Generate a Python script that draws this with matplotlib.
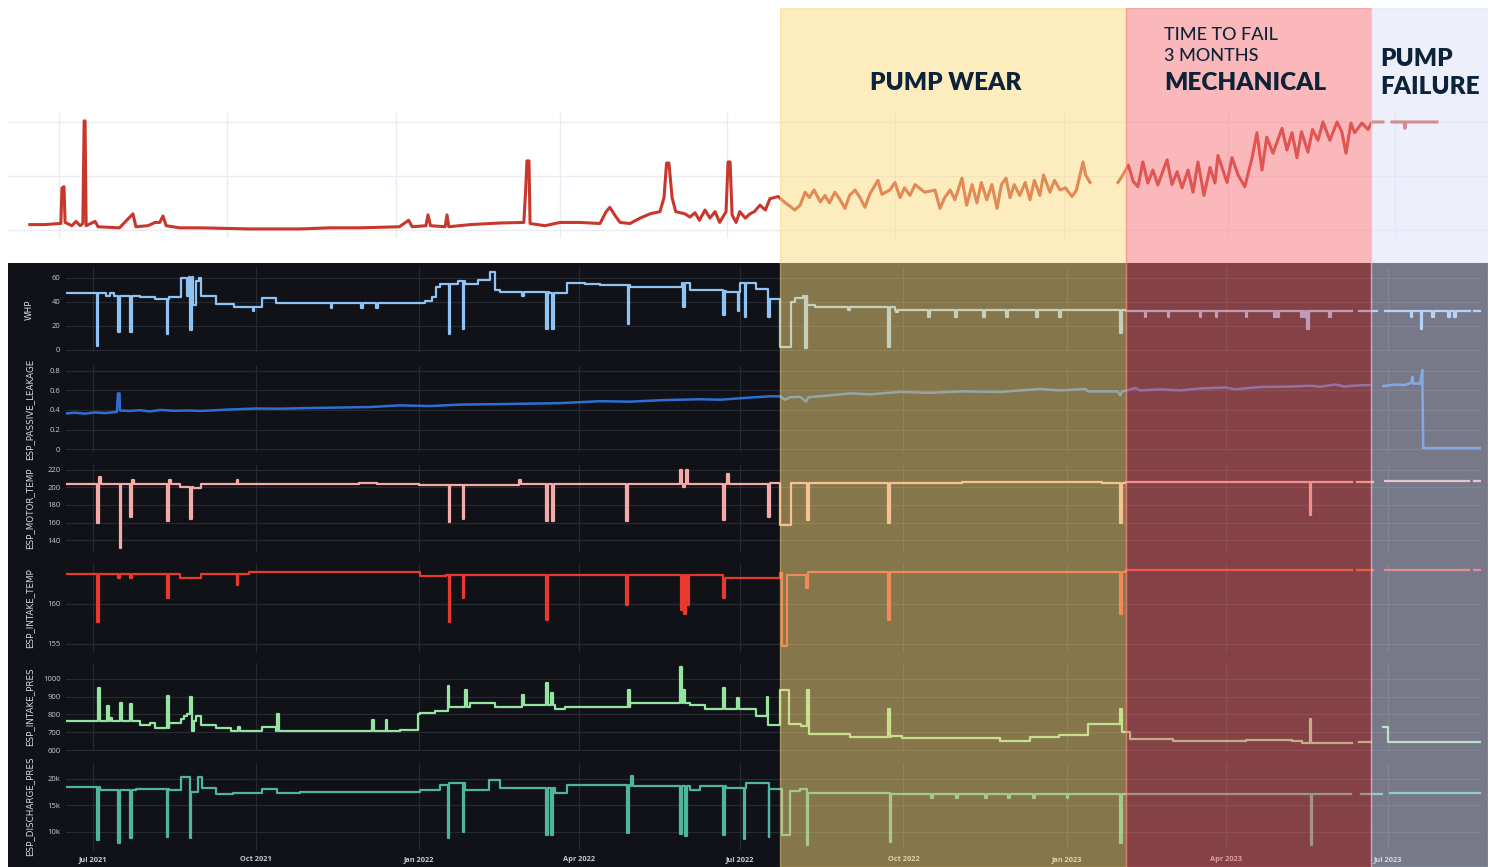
import numpy as np
import matplotlib
matplotlib.use('Agg')
import matplotlib.pyplot as plt
from matplotlib.patches import Rectangle

nan = np.nan

# ---- top chart: overall degradation index (days since 2021-07-01, value) ----
top_trend = [(-16, 5), (-8, 5), (0, 6), (1, 6), (1.6, 39), (2.7, 40), (3.3, 7), (7, 4), (9.3, 8), (11.5, 4),
             (13, 6), (13.7, 101), (14.2, 101), (14.8, 4), (19.7, 8), (21.3, 3), (33, 2), (40.4, 15), (42, 3),
             (48.6, 4), (52.5, 7), (55, 7), (56.8, 13), (58.5, 4), (66, 2), (77, 2), (104, 1), (132, 1), (148, 2),
             (164, 2), (186, 3), (191, 9), (193, 3), (200.5, 4), (201.6, 14), (203, 4), (211, 3), (212, 14),
             (213, 3), (224.6, 5), (235.5, 6), (241, 6.5), (254, 7), (255, 37), (255.7, 64), (256.8, 64),
             (257.4, 6), (265.6, 4), (273.8, 7), (284.7, 7), (295.6, 6), (299, 17), (301, 21), (304, 13),
             (306.6, 7), (312, 6), (317.5, 11), (323, 15), (328.4, 17), (330.6, 30), (332, 62), (333.3, 62),
             (335, 30), (337, 17), (342, 15), (344.8, 12), (347.5, 16), (350, 9), (353, 18.5), (355.7, 11),
             (358.5, 17), (361, 7), (364.5, 17), (365.6, 63), (366.7, 63), (367.8, 14), (370, 7), (372, 17),
             (375, 11), (377.6, 15), (380, 17), (383, 23), (386, 18.5), (388.5, 29), (393, 31), (397, 25),
             (399.5, 22), (402, 18.5), (405, 23), (407.7, 35), (410, 30), (412.6, 37), (416, 26), (418.6, 32),
             (421, 25), (424, 35), (426.8, 28), (429.5, 20), (432, 32), (435, 37), (437.7, 30), (440.4, 21),
             (443, 33), (447.5, 46), (449.7, 33), (454, 37), (456.8, 44), (459.6, 30), (462, 39), (465, 32),
             (467.8, 42), (473, 35), (478.7, 37), (481.4, 20), (484, 30), (487, 37), (489.6, 28), (493.4, 48),
             (496, 23), (499, 42), (501.6, 25), (504, 44), (507, 28), (509.8, 42), (512.6, 20), (515, 42),
             (517.5, 48), (519.7, 30), (522, 42), (525, 32), (528, 44), (530.6, 28), (533, 46), (536, 32),
             (538, 51), (541.5, 35), (544, 46), (547, 37), (550, 39), (553.6, 31), (556, 37), (559.6, 63),
             (561, 51), (563.4, 44), (565, nan), (578.7, 44), (581, 50), (584.4, 60), (587, 45), (589.6, 40),
             (592.3, 63), (595, 43.5), (597.8, 55.5), (600.5, 41.7), (605.5, 65), (608.2, 42), (611, 54),
             (613.7, 39), (617, 55.5), (619.7, 35), (622.4, 63), (625.7, 32), (629, 58), (631.7, 43.5),
             (633.3, 69), (638.3, 44), (641, 67), (644.3, 51), (648, 40), (652, 67), (654.6, 90), (657.4, 55.5),
             (660, 86), (663.4, 71), (668.3, 94), (671, 74), (673.8, 90), (676.5, 67), (679, 91), (682.5, 72),
             (685, 93), (688, 83), (690.7, 100), (694.5, 83), (698.4, 100), (701, 91), (703.3, 71), (706, 99),
             (708, 90), (712, 99), (715.3, 93), (717.5, 100), (723.5, 100), (725, nan), (728.4, 100), (735, 100),
             (735.5, 94), (736, 100), (753, 100)]

# ---- sensor channels: step levels (day, value) + short dips/spikes (day, value) ----
whp_levels = [(-15, 47), (7.5, 45), (9.6, 47), (12, 45), (26.5, 44), (35, 42), (43, 44), (49.6, 60), (52.8, 45),
              (54, 61), (56.2, 37), (58, 57), (59.8, 60), (60.9, 45), (69.4, 38), (79.5, 36), (95.3, 43),
              (103, 39), (184.4, 39), (187.2, 41), (191.2, 44), (193.5, 52), (195.7, 55), (205.9, 57), (210, 55),
              (217, 58), (224, 65), (226.7, 50), (229.5, 48), (257, 47), (267.3, 56), (277.5, 55), (286, 54),
              (303, 52), (331, 52), (332.2, 56), (336.7, 50), (355, 49), (357, 48), (365, 56), (374, 51),
              (381.5, 42.5), (387.5, 2.5), (393.5, 40), (396, 43), (400.4, 45), (402.7, 37.5), (407, 36),
              (452, 33), (582.6, 32.5), (710, nan), (714, 32.5), (724, nan), (728.5, 32.5), (776.6, nan),
              (779, 32.5), (782.7, 32.5)]
whp_dips = [(2, 3), (14, 15), (21, 15), (41.5, 13), (54.6, 16), (90, 32), (134, 35), (151, 35), (159.5, 35),
            (200.5, 13), (208.5, 17), (242, 45), (255.5, 17), (258.7, 17), (301.5, 21), (333, 36), (355.5, 29),
            (363.5, 32), (367.5, 27), (380.5, 27), (401.5, 1.5), (426, 33), (448.5, 2.5), (453, 31), (471, 27),
            (486, 27), (502, 27), (515, 27), (532, 27), (545, 27), (579, 14), (593, 27), (606, 27), (624, 27),
            (633, 27), (650, 27), (666, 27), (668, 27), (681, 27), (683, 27), (684.7, 17), (697, 27), (743, 27),
            (748.6, 17), (755, 27), (764, 27), (767.5, 27)]

leakage = [(-14.7, 0.365), (-10.2, 0.372), (-4.5, 0.362), (1.1, 0.375), (6.8, 0.368), (12.4, 0.378),
           (13.5, 0.38), (14.1, 0.57), (15, 0.57), (15.2, 0.395), (20.9, 0.39), (26.5, 0.398), (32, 0.385),
           (37.8, 0.4), (46, 0.392), (54.7, 0.395), (60.3, 0.39), (68.8, 0.397), (77.3, 0.405), (92, 0.415),
           (105.5, 0.413), (122.4, 0.42), (139.3, 0.425), (156, 0.43), (173, 0.447), (190, 0.44), (207, 0.455),
           (229.5, 0.46), (246.5, 0.465), (263.4, 0.47), (286, 0.49), (303, 0.485), (320, 0.5), (342.3, 0.51),
           (353.6, 0.505), (365, 0.52), (381.8, 0.54), (387.5, 0.54), (390.3, 0.505), (393, 0.53),
           (398.8, 0.535), (402.1, 0.485), (403.3, 0.53), (415.7, 0.55), (427, 0.57), (438.2, 0.56),
           (455, 0.585), (472, 0.575), (489, 0.59), (511.6, 0.585), (522.8, 0.6), (534, 0.615), (545.4, 0.6),
           (559.5, 0.615), (561.2, 0.59), (578, 0.59), (579.2, 0.55), (580.4, 0.59), (585, 0.61),
           (587.7, 0.625), (590.5, 0.6), (601.8, 0.61), (613, 0.6), (624.3, 0.62), (638.4, 0.63), (644, 0.612),
           (658, 0.635), (675, 0.64), (686.4, 0.648), (692, 0.638), (700.5, 0.66), (706, 0.64), (712, 0.65),
           (720, 0.655), (723, nan), (727.6, 0.645), (734.3, 0.66), (740, 0.655), (743.4, 0.68), (744, 0.74),
           (744.5, 0.67), (748.4, 0.67), (749.6, 0.81), (750.1, 0.01), (782.7, 0.01)]

motor_levels = [(-15, 203.5), (49, 201), (56.4, 199), (60.9, 203.6), (150, 205), (160, 203.6), (184, 203),
                (240, 203.5), (330, 204.5), (382, 204.8), (387.5, 157), (393.5, 204.8), (490, 206),
                (569, 204.8), (582.6, 206.7), (710, nan), (713, 206.7), (722, nan), (728.5, 207.4), (776, nan),
                (778.5, 207.4), (782.7, 207.4)]
motor_dips = [(2.5, 159), (3.5, 212), (15, 130.5), (20.9, 166), (21.9, 208), (41.8, 161.7), (42.8, 208),
              (54.7, 163.6), (81, 208), (200.5, 160.5), (208.5, 164), (240.5, 208), (255.5, 161.7),
              (259, 161.7), (300.8, 161.7), (331, 220), (333, 200), (334.5, 220), (355.5, 163), (357.5, 215.4),
              (380.5, 166.7), (402.5, 163), (448.5, 160), (579, 160), (686, 168.6)]

intake_t_levels = [(-15, 163.8), (49, 163.3), (61, 163.8), (88, 164.0), (184.4, 163.5), (199, 163.6),
                   (355, 163.3), (387.5, 163.9), (388.5, 154.7), (391.5, 163.6), (403, 164.0), (582.6, 164.25),
                   (710, nan), (713, 164.25), (722, nan), (728.5, 164.25), (776, nan), (778.5, 164.25),
                   (782.7, 164.25)]
intake_t_dips = [(2.5, 157.8), (14, 163.2), (21, 163.2), (42, 160.8), (81, 162.4), (200.5, 157.75),
                 (208.5, 160.7), (255.5, 158), (300.8, 159.9), (331.5, 159.25), (333.5, 158.8), (335, 159.9),
                 (355.5, 160.7), (402, 162), (448.5, 158), (579, 158.8)]

intake_p_levels = [(-15, 763), (9.5, 781), (11, 763), (26.5, 739), (32, 750), (35, 724), (43, 750), (49.6, 775),
                   (51.5, 790), (53, 800), (55.6, 707), (56.8, 763), (58.2, 790), (60.9, 739), (69.4, 726),
                   (78, 707), (95.3, 731), (103.2, 707), (173, 711), (183.3, 800), (184.4, 811), (193, 822),
                   (201, 844), (212.6, 867), (226.7, 844), (243, 855), (260.6, 833), (266.2, 844), (302.9, 867),
                   (336.7, 856), (345, 833), (374, 794), (380.7, 739), (387.5, 939), (392.5, 744), (399, 733),
                   (404, 689), (427, 672), (450, 678), (456, 667), (511.6, 650), (528.5, 672), (545, 683),
                   (561, 744), (580.4, 700), (585, 661), (609, 650), (650, 655), (676, 650), (682, 639),
                   (710, nan), (714, 644), (720.8, nan), (727.6, 728), (730, 644), (782.7, 644)]
intake_p_dips = [(2.8, 948), (7.9, 850), (15.2, 865), (20.9, 860), (41.7, 905), (54.6, 896), (81.8, 730),
                 (103.8, 800), (157.4, 768), (165, 768), (200.2, 961), (209.8, 939), (242, 911), (255.5, 978),
                 (258.3, 922), (301.7, 939), (331, 1067), (332.8, 939), (355.3, 950), (363.2, 890), (380.1, 900),
                 (402.5, 939), (448.5, 833), (579, 828), (686, 772)]

discharge_levels = [(-15, 18.55), (4, 18.0), (24, 18.05), (43, 18.0), (49.6, 20.4), (54, 20.4), (55.3, 17.5),
                    (59, 20.4), (61.5, 18.2), (69.4, 17.2), (79, 17.3), (95.3, 18.05), (103.5, 17.4),
                    (116.8, 17.6), (173, 17.5), (184.4, 17.9), (195.7, 18.8), (201, 19.2), (210, 17.9),
                    (223.5, 19.8), (229.5, 18.3), (260.6, 17.4), (267.3, 18.9), (302.9, 18.7), (336.7, 17.9),
                    (342.3, 18.7), (357, 18.2), (368.3, 19.2), (381.3, 18.05), (388.6, 9.4), (393, 17.7),
                    (398.8, 18.1), (403.3, 17.3), (450, 17.1), (709.5, nan), (715, 17.1), (727, nan),
                    (731.5, 17.3), (762, nan), (763, 17.3), (773, nan), (774, 17.3), (782.7, 17.3)]
discharge_dips = [(2.3, 8.5), (14, 7.9), (21, 8.8), (41.5, 9.1), (54.6, 8.8), (200.2, 8.9), (208.5, 10),
                  (255.5, 9.4), (258.3, 9.4), (301.3, 9.8), (303.5, 20.5), (331, 9.6), (334, 9.2), (355.3, 9.4),
                  (366.9, 8.6), (381, 9.1), (402.7, 7.5), (449.5, 8.2), (472.6, 16.4), (486.7, 16.4),
                  (503, 16.4), (516, 16.4), (530, 16.4), (549, 16.4), (579, 7.9), (686.6, 7.5)]

# ---- axes / annotation info ----
quarter_days = [0, 92, 184, 274, 365, 457, 549, 639, 730]
quarter_labels = ['Jul 2021', 'Oct 2021', 'Jan 2022', 'Apr 2022', 'Jul 2022', 'Oct 2022', 'Jan 2023',
                  'Apr 2023', 'Jul 2023']
phase_edges = [387.5, 582.6, 720.8, 786.8]
phase_colors = ['#fbdb7f', '#f77377', '#dde1f9']

channel_names = ['WHP', 'ESP_PASSIVE_LEAKAGE', 'ESP_MOTOR_TEMP', 'ESP_INTAKE_TEMP', 'ESP_INTAKE_PRES',
                 'ESP_DISCHARGE_PRES']
channel_colors = ['#8fc3f4', '#2d6fd2', '#f3aaa8', '#e8392e', '#93e59f', '#4fb59d']
channel_yticks = [[0, 20, 40, 60], [0, 0.2, 0.4, 0.6, 0.8], [140, 160, 180, 200, 220], [155, 160],
                  [600, 700, 800, 900, 1000], [10, 15, 20]]
channel_ticklabels = [['0', '20', '40', '60'], ['0', '0.2', '0.4', '0.6', '0.8'],
                      ['140', '160', '180', '200', '220'], ['155', '160'], ['600', '700', '800', '900', '1000'],
                      ['10k', '15k', '20k']]
channel_ylims = [(-2, 69), (-0.03, 0.85), (126.3, 225.7), (154, 165), (595, 1089), (6.6, 23)]

W, H = 1496, 867


def rect(x0, y0, x1, y1):
    return [x0 / W, 1 - y1 / H, (x1 - x0) / W, (y1 - y0) / H]


def step_path(levels, dips, width=1.0):
    days = np.array([p[0] for p in levels], float)
    vals = np.array([p[1] for p in levels], float)
    pts = list(zip(days, vals))
    for d, v in dips:
        i = np.searchsorted(days, d + width, side='right') - 1
        pts += [(d, v), (d + width, vals[i])]
    pts.sort(key=lambda p: p[0])
    x, y = zip(*pts)
    return np.array(x), np.array(y)


fig = plt.figure(figsize=(W / 100, H / 100), dpi=100)
fig.patch.set_facecolor('white')

# top chart
ax_top = fig.add_axes(rect(8, 113, 1488, 238))
tx, ty = zip(*top_trend)
ax_top.plot(tx, ty, color='#c9372c', lw=2.2, solid_joinstyle='round')
ax_top.set_xlim(-27.9, 780.9)
ax_top.set_ylim(-7.4, 108.3)
ax_top.set_xticks(quarter_days)
ax_top.set_yticks([0, 50, 100])
ax_top.tick_params(length=0, labelbottom=False, labelleft=False)
ax_top.grid(True, color='#ebecf3', lw=1)
ax_top.set_axisbelow(True)
for s in ax_top.spines.values():
    s.set_visible(False)

# dark panel background
fig.add_artist(Rectangle((8 / W, 0), 1480 / W, (H - 263) / H, transform=fig.transFigure,
                         facecolor='#111217', edgecolor='none', zorder=-1))

panel_rows = [(267, 352), (366, 452), (465, 552), (564, 652), (663, 751), (763, 850)]
series = [step_path(whp_levels, whp_dips), tuple(np.array(a) for a in zip(*leakage)),
          step_path(motor_levels, motor_dips), step_path(intake_t_levels, intake_t_dips),
          step_path(intake_p_levels, intake_p_dips), step_path(discharge_levels, discharge_dips)]

tick_font = ['Open Sans', 'DejaVu Sans']
for k, (y0, y1) in enumerate(panel_rows):
    ax = fig.add_axes(rect(66, y0, 1481, y1))
    ax.set_facecolor('none')
    x, y = series[k]
    if k == 1:
        ax.plot(x, y, color=channel_colors[k], lw=1.8)
    else:
        ax.step(x, y, where='post', color=channel_colors[k], lw=1.6)
    ax.set_xlim(-15.2, 782.7)
    ax.set_ylim(*channel_ylims[k])
    ax.set_yticks(channel_yticks[k])
    ax.set_yticklabels(channel_ticklabels[k], fontsize=5.5, color='#c9ccd2', family=tick_font)
    ax.set_xticks(quarter_days)
    if k == len(panel_rows) - 1:
        ax.set_xticklabels(quarter_labels, fontsize=5.3, color='#c9ccd2', fontweight='bold', family=tick_font)
    else:
        ax.set_xticklabels([])
    ax.tick_params(length=0, pad=4)
    ax.grid(True, color='#272a32', lw=0.8)
    ax.set_axisbelow(True)
    for s in ax.spines.values():
        s.set_visible(False)
    ax.set_ylabel(channel_names[k], fontsize=6.3, color='#d8dadf',
                  family=['Liberation Sans Narrow', 'DejaVu Sans'])
    ax.yaxis.set_label_coords(-0.0225, 0.5)

# phase overlay across both charts
ov = fig.add_axes(rect(8, 8, 1488, 867))
ov.set_zorder(10)
ov.patch.set_alpha(0)
ov.set_xlim(-47.9, 786.8)
ov.set_ylim(0, 1)
ov.axis('off')
for a, b, c in zip(phase_edges[:-1], phase_edges[1:], phase_colors):
    ov.axvspan(a, b, facecolor=c, edgecolor=c, lw=1, alpha=0.5)

trans = ov.get_xaxis_transform()
head = dict(color='#0c2339', family=['Lato', 'DejaVu Sans'], transform=trans, va='center')
ov.text(481, 0.9127, 'PUMP WEAR', ha='center', fontsize=17.5, fontweight='heavy', **head)
ov.text(604, 0.9686, 'TIME TO FAIL', ha='left', fontsize=13, fontweight='medium', **head)
ov.text(604, 0.944, '3 MONTHS', ha='left', fontsize=13, fontweight='medium', **head)
ov.text(604, 0.9127, 'MECHANICAL', ha='left', fontsize=17.5, fontweight='heavy', **head)
ov.text(725.9, 0.9406, 'PUMP', ha='left', fontsize=17.5, fontweight='heavy', **head)
ov.text(725.9, 0.908, 'FAILURE', ha='left', fontsize=17.5, fontweight='heavy', **head)

fig.savefig('out.png', dpi=100, facecolor='white')
